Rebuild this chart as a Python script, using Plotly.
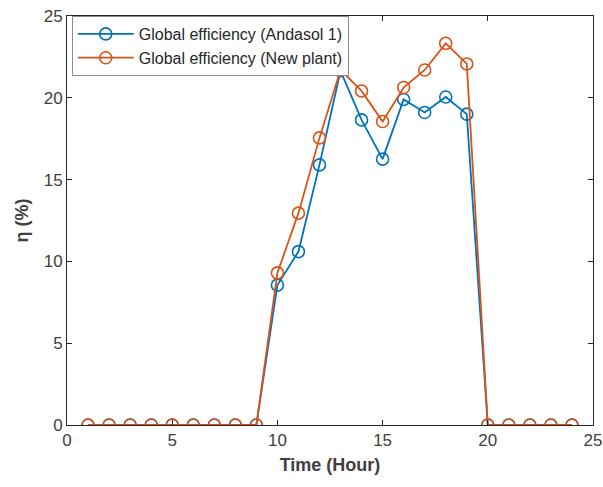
import plotly.graph_objects as go

hours = list(range(1, 25))
andasol = [0, 0, 0, 0, 0, 0, 0, 0, 0, 8.55, 10.6, 15.9, 21.65, 18.65, 16.25, 19.9, 19.1, 20.05, 19.0,
           0, 0, 0, 0, 0]
new_plant = [0, 0, 0, 0, 0, 0, 0, 0, 0, 9.3, 12.95, 17.55, 21.7, 20.42, 18.55, 20.63, 21.7, 23.33, 22.07,
             0, 0, 0, 0, 0]
x_ticks = [0, 5, 10, 15, 20, 25]
y_ticks = [0, 5, 10, 15, 20, 25]

fig = go.Figure()
fig.add_trace(go.Scatter(
    x=hours, y=andasol, mode="lines+markers", name="Global efficiency (Andasol 1)",
    line=dict(color="#0072BD", width=1.8),
    marker=dict(symbol="circle-open", size=12, color="#0072BD", line=dict(width=1.6)),
))
fig.add_trace(go.Scatter(
    x=hours, y=new_plant, mode="lines+markers", name="Global efficiency (New plant)",
    line=dict(color="#D95319", width=1.8),
    marker=dict(symbol="circle-open", size=12, color="#D95319", line=dict(width=1.6)),
))

axis_common = dict(
    showgrid=False, zeroline=False, showline=True, linecolor="#262626", linewidth=1,
    mirror="ticks", ticks="inside", ticklen=5, tickcolor="#262626", automargin=False,
    tickfont=dict(family="Liberation Sans, Arial", size=17, color="#404040"),
)

fig.update_layout(
    width=603, height=487,
    margin=dict(l=67, r=10, t=16, b=62),
    paper_bgcolor="white", plot_bgcolor="white",
    showlegend=True,
    legend=dict(
        x=0.009, y=1.0, xanchor="left", yanchor="top",
        bgcolor="white", bordercolor="#8c8c8c", borderwidth=1,
        font=dict(family="Liberation Sans, Arial", size=16, color="#262626"),
        tracegroupgap=0, itemwidth=56,
    ),
    xaxis=dict(
        range=[0, 25], tickvals=x_ticks, **axis_common,
        title=dict(text="<b>Time (Hour)</b>", standoff=8,
                   font=dict(family="Liberation Sans, Arial", size=18, color="#404040")),
    ),
    yaxis=dict(
        range=[0, 25], tickvals=y_ticks, **axis_common,
        title=dict(text="<b>η (%)</b>", standoff=10,
                   font=dict(family="Liberation Sans, Arial", size=18, color="#404040")),
    ),
)

fig.write_html("out.html")
